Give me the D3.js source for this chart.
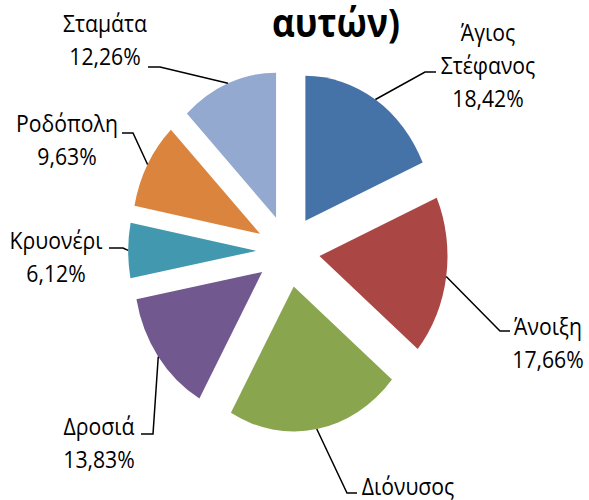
<!DOCTYPE html>
<html>
<head>
    <meta charset="utf-8">
    <style>
        body { margin: 0; background: #fff; }
        text.label { font-family: "Open Sans", sans-serif; font-size: 24px; fill: #000; }
        text.title { font-family: "Open Sans", sans-serif; font-size: 40px; font-weight: bold; fill: #000; }
        path.leader { fill: none; stroke: #000; stroke-width: 1.5px; }
    </style>
</head>
<body>
<div id="pie"></div>
<script src="https://cdn.jsdelivr.net/npm/d3@7/dist/d3.min.js"></script>
<script>

    // data
    var towns = ["Άγιος Στέφανος", "Άνοιξη", "Διόνυσος", "Δροσιά", "Κρυονέρι", "Ροδόπολη", "Σταμάτα"];
    var shares = [18.42, 17.66, 22.08, 13.83, 6.12, 9.63, 12.26];
    var labelLines = [["Άγιος", "Στέφανος"], ["Άνοιξη"], ["Διόνυσος"], ["Δροσιά"], ["Κρυονέρι"], ["Ροδόπολη"], ["Σταμάτα"]];
    var colors = ["#4572A7", "#AA4643", "#89A54E", "#71588F", "#4198AF", "#DB843D", "#93A9CF"];

    // layout
    var width = 589, height = 500;
    var cx = 288, cy = 251, radius = 145, explode = 36, sx = 0.883;
    var lineStep = 33;

    // label centre x, first baseline y, elbow and stub end of the leader line
    var labelPos = [
        {x: 488, y: 41, elbow: [425, 72], stub: [436, 72]},
        {x: 548, y: 335, elbow: [500, 331], stub: [510, 331]},
        {x: 408, y: 495, elbow: [347, 493], stub: [357, 493]},
        {x: 99, y: 435, elbow: [153, 434], stub: [141, 434]},
        {x: 56, y: 249, elbow: [123, 248], stub: [109, 248]},
        {x: 67, y: 132, elbow: [133, 133], stub: [122, 133]},
        {x: 105, y: 32, elbow: [160, 67], stub: [148, 67]}
    ];

    var fmt = function (v) {
        return v.toFixed(2).replace(".", ",") + "%";
    };

    var svg = d3.select("#pie").append("svg")
        .attr("width", width)
        .attr("height", height);

    var pie = d3.pie().sort(null).value(function (d) { return d; });
    var arcs = pie(shares);

    var arc = d3.arc().innerRadius(0).outerRadius(radius);

    var gPie = svg.append("g")
        .attr("transform", "translate(" + cx + "," + cy + ") scale(" + sx + ",1)");

    function mid(d) {
        return (d.startAngle + d.endAngle) / 2;
    }

    gPie.selectAll("path.slice")
        .data(arcs)
        .enter()
        .append("path")
        .attr("class", "slice")
        .attr("fill", function (d, i) { return colors[i]; })
        .attr("transform", function (d) {
            var a = mid(d);
            return "translate(" + (explode * Math.sin(a)) + "," + (-explode * Math.cos(a)) + ")";
        })
        .attr("d", arc);

    // point on the outer arc in the middle of each exploded slice
    function arcMid(d) {
        var a = mid(d), r = radius + explode;
        return [cx + sx * r * Math.sin(a), cy - r * Math.cos(a)];
    }

    var line = d3.line();

    svg.selectAll("path.leader")
        .data(arcs)
        .enter()
        .append("path")
        .attr("class", "leader")
        .attr("d", function (d, i) {
            return line([arcMid(d), labelPos[i].elbow, labelPos[i].stub]);
        });

    var labels = svg.selectAll("text.label")
        .data(arcs)
        .enter()
        .append("text")
        .attr("class", "label")
        .attr("text-anchor", "middle")
        .attr("transform", function (d, i) {
            return "translate(" + labelPos[i].x + "," + labelPos[i].y + ") scale(" + sx + ",1)";
        });

    labels.each(function (d, i) {
        var t = d3.select(this);
        labelLines[i].concat([fmt(shares[i])]).forEach(function (s, k) {
            t.append("tspan")
                .attr("x", 0)
                .attr("y", k * lineStep)
                .text(s);
        });
    });

    svg.append("text")
        .attr("class", "title")
        .attr("text-anchor", "middle")
        .attr("transform", "translate(336,37) scale(" + sx + ",1)")
        .text("αυτών)");

</script>
</body>
</html>
